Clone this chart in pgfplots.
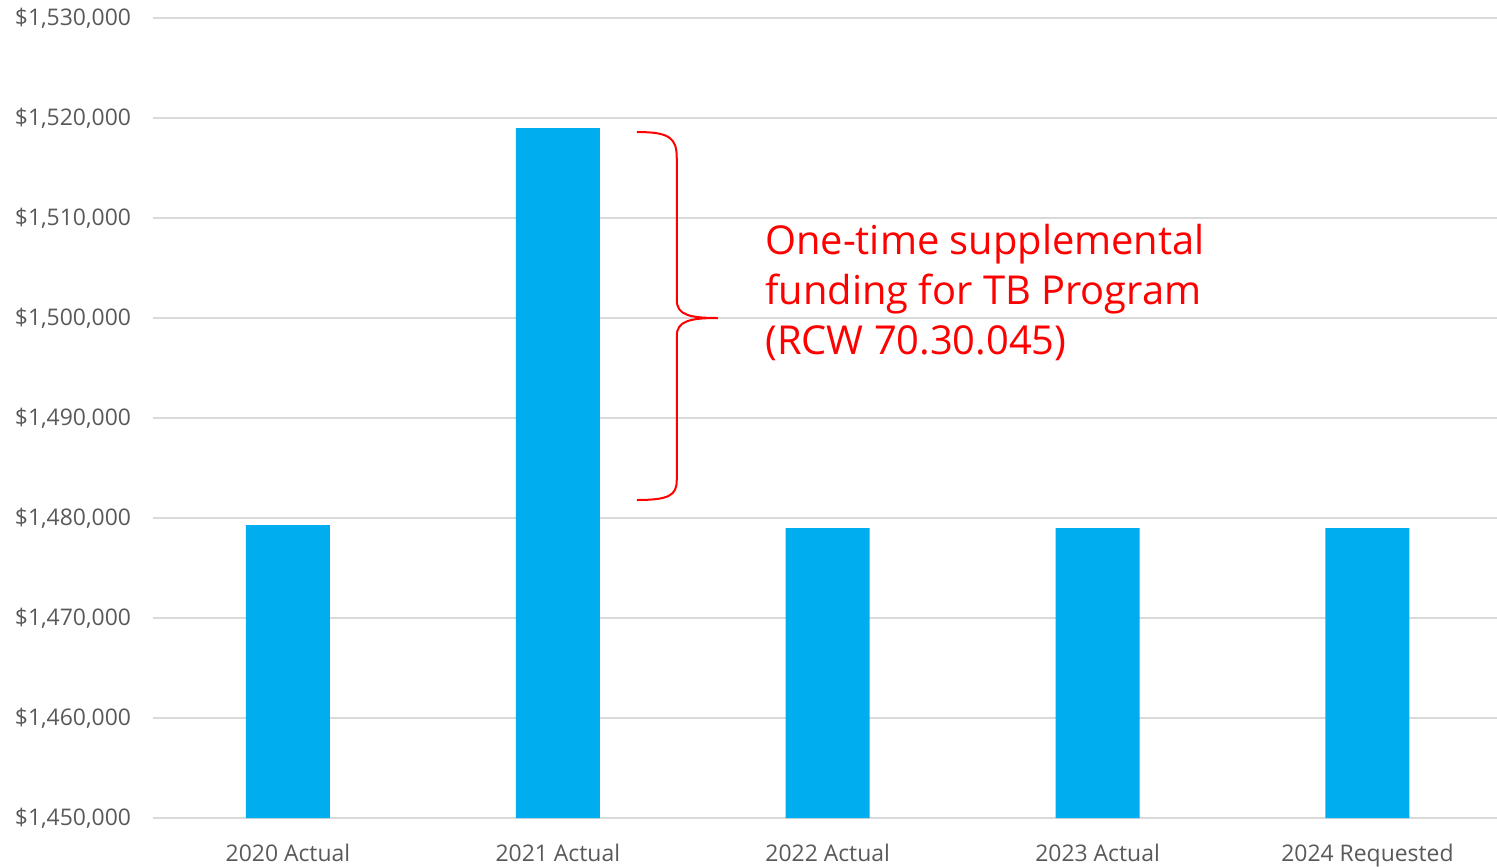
\documentclass[border=0pt]{standalone}
\usepackage{pgfplots}
\pgfplotsset{compat=1.18}
\usepackage{fontspec}
\setmainfont{Open Sans}
\definecolor{barblue}{RGB}{0,174,239}
\definecolor{gridgray}{RGB}{217,217,217}
\definecolor{labgray}{RGB}{89,89,89}
\begin{document}
\begin{tikzpicture}
\begin{axis}[
    at={(0,0)}, anchor=south west,
    scale only axis, width=672bp, height=400bp,
    ybar, bar width=42bp,
    xmin=-0.5, xmax=4.48,
    ymin=1450000, ymax=1530000,
    xtick={0,1,2,3,4},
    xticklabels={2020 Actual,2021 Actual,2022 Actual,2023 Actual,2024 Requested},
    ytick={1450000,1460000,...,1530000},
    scaled y ticks=false,
    yticklabel={\$\pgfmathprintnumber{\tick}},
    /pgf/number format/.cd, fixed, precision=0, 1000 sep={,}, assume math mode=true,
    /pgfplots/.cd,
    axis line style={draw=none},
    major tick length=0pt,
    ymajorgrids, grid style={gridgray, line width=1bp},
    tick label style={labgray, font=\fontsize{11.5}{13}\selectfont},
    yticklabel style={xshift=-7.5bp},
    xticklabel style={yshift=-9.5bp},
    clip=false,
]
\addplot[fill=barblue, draw=none] coordinates {
    (0,1479300) (1,1519000) (2,1479000) (3,1479000) (4,1479000)};
% bracket next to the 2021 bar
\draw[red, line width=1bp]
    (axis cs:1.2926,1518600) .. controls (axis cs:1.4148,1518600) and (axis cs:1.4407,1518000) ..
    (axis cs:1.4407,1516000) -- (axis cs:1.4407,1501800)
    .. controls (axis cs:1.4407,1500300) and (axis cs:1.4889,1500000) .. (axis cs:1.5926,1500000)
    .. controls (axis cs:1.4889,1500000) and (axis cs:1.4407,1499700) .. (axis cs:1.4407,1498200)
    -- (axis cs:1.4407,1483800)
    .. controls (axis cs:1.4407,1482300) and (axis cs:1.4148,1481800) .. (axis cs:1.2926,1481800);
\node[red, anchor=north west, inner sep=0pt, align=left,
      font=\fontsize{20}{25}\selectfont]
    at (axis cs:1.767,1509400)
    {One-time supplemental\\funding for TB Program\\(RCW 70.30.045)};
\end{axis}
\pgfresetboundingbox
\useasboundingbox (-76.5bp,-24.5bp) rectangle (672bp,409bp);
\end{tikzpicture}
\end{document}
